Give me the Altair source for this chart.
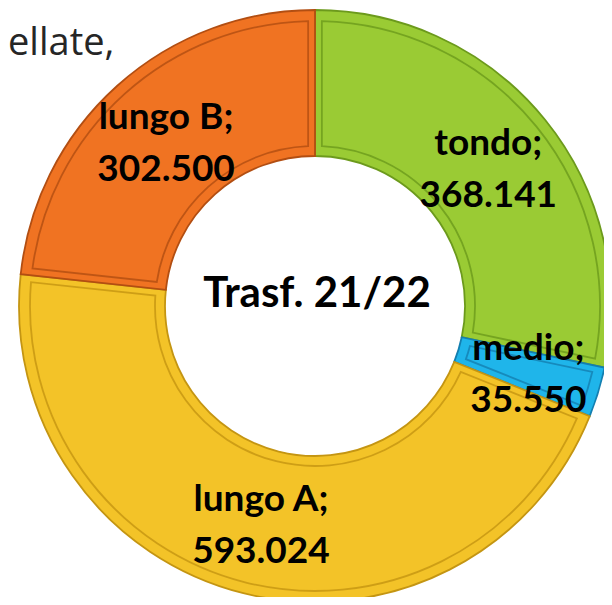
import altair as alt
import pandas as pd

categories = ["tondo", "medio", "lungo A", "lungo B"]
values = [368141, 35550, 593024, 302500]
value_labels = ["368.141", "35.550", "593.024", "302.500"]
fill_colors = ["#9ACB34", "#1FB5EA", "#F3C328", "#F07322"]
edge_colors = ["#6C9A1C", "#147FB0", "#C49512", "#B24E12"]
center_text = ["Trasf. 21/22"]
title_text = ["ellate,"]

df = pd.DataFrame({
    "cat": categories,
    "value": values,
    "vlabel": value_labels,
    "idx": list(range(len(categories))),
})
df["label"] = df["cat"] + ";\n" + df["vlabel"]

CX, CY = 307, 298

color_enc = alt.Color("cat:N", scale=alt.Scale(domain=categories, range=fill_colors), legend=None)
stroke_enc = alt.Stroke("cat:N", scale=alt.Scale(domain=categories, range=edge_colors), legend=None)

base = alt.Chart(df).encode(
    theta=alt.Theta("value:Q", stack=True),
    order=alt.Order("idx:Q"),
    x=alt.value(CX),
    y=alt.value(CY),
)

outer = base.mark_arc(radius=296, radius2=150, strokeWidth=1.8).encode(color=color_enc, stroke=stroke_enc)
inner = base.mark_arc(radius=285, radius2=160, padAngle=0.042, strokeWidth=1.8, strokeOpacity=0.8).encode(
    color=color_enc, stroke=stroke_enc
)
labels = base.mark_text(
    radius=223, font="Lato", fontSize=37, fontWeight="bold", lineBreak="\n", lineHeight=52,
    dy=-22, color="black"
).encode(text="label:N")

center = alt.Chart(pd.DataFrame({"t": center_text})).mark_text(
    font="Lato", fontSize=42, fontWeight="bold", baseline="alphabetic", align="center", color="black"
).encode(x=alt.value(309), y=alt.value(299), text="t:N")

title = alt.Chart(pd.DataFrame({"t": title_text})).mark_text(
    font="Open Sans", fontSize=38, baseline="alphabetic", align="left", color="#262626"
).encode(x=alt.value(0), y=alt.value(47), text="t:N")

chart = alt.layer(outer, inner, labels, center, title).properties(
    width=596, height=589, autosize=alt.AutoSizeParams(type="none"), padding=0
).configure_view(strokeWidth=0)

chart.save("out.html", embed_options={"renderer": "svg", "actions": False})
